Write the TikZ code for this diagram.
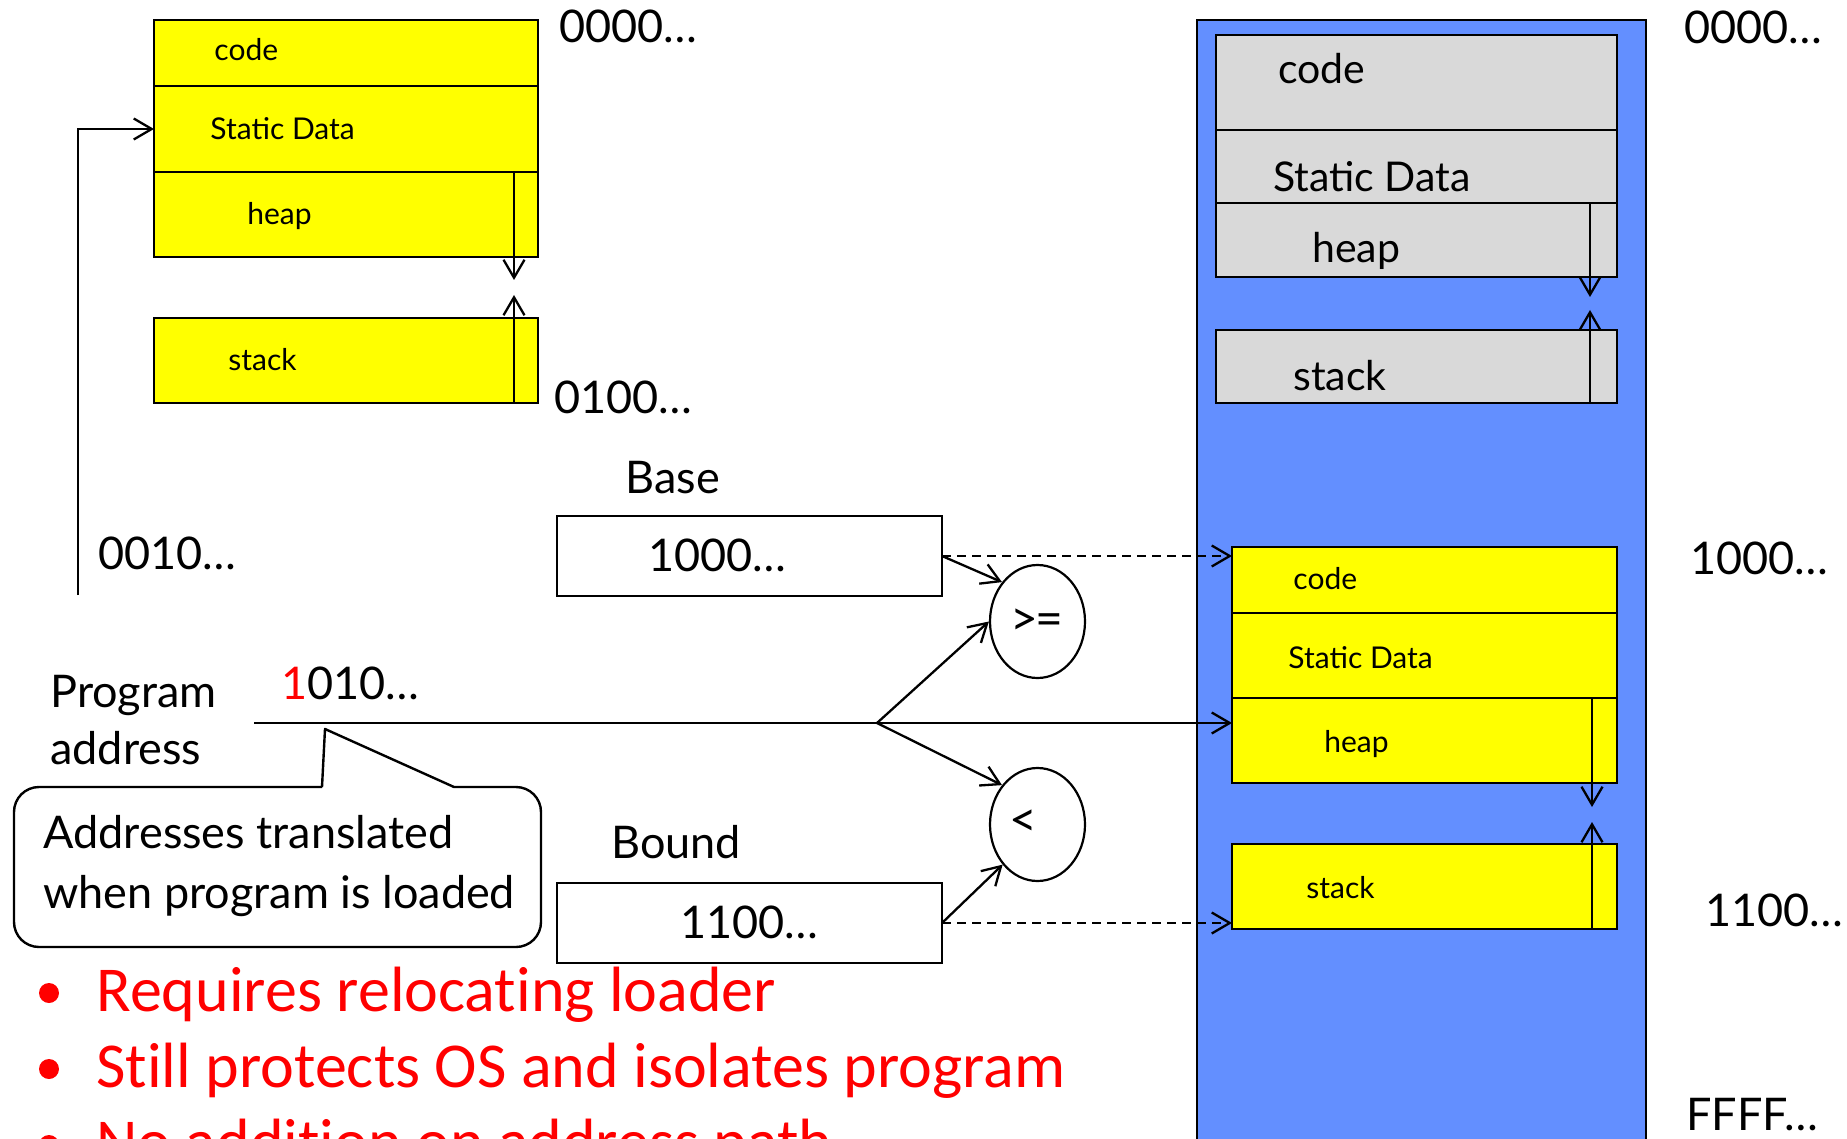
\documentclass[tikz,border=0pt]{standalone}
\usepackage{fontspec}
\setmainfont{Lato}
\newfontfamily\calibri[Ligatures=NoCommon]{Carlito}
\usetikzlibrary{arrows.meta,shapes.geometric,calc}
\definecolor{memblue}{RGB}{99,143,255}
\definecolor{segyellow}{RGB}{255,255,0}
\definecolor{seggray}{RGB}{217,217,217}
\definecolor{bulletred}{RGB}{255,0,0}

\begin{document}
\begin{tikzpicture}[x=0.5pt,y=-0.5pt,
  seg/.style={draw, line width=1.2pt, inner sep=0pt, outer sep=0pt, anchor=north west},
  yseg/.style={seg, fill=segyellow, minimum width=192pt},
  rseg/.style={seg, fill=segyellow, minimum width=192.5pt},
  gseg/.style={seg, fill=seggray, minimum width=200.5pt},
  regbox/.style={seg, fill=white, minimum width=192.5pt, minimum height=40pt},
  cmp/.style={ellipse, draw, line width=1.1pt, fill=white, inner sep=0pt,
    minimum width=47.5pt, minimum height=56.5pt},
  smalltxt/.style={inner sep=0pt, anchor=base west, font=\fontsize{15pt}{18pt}\selectfont},
  midtxt/.style={inner sep=0pt, anchor=base west, font=\fontsize{20.5pt}{25pt}\selectfont},
  bigtxt/.style={inner sep=0pt, anchor=base west, font=\fontsize{22.5pt}{27pt}\selectfont},
  redtxt/.style={inner sep=0pt, anchor=base west, text=bulletred,
    font=\calibri\fontsize{32pt}{38pt}\selectfont},
  conn/.style={line width=1.15pt, -{Straight Barb[length=9pt,width=10.5pt]}},
  dashconn/.style={conn, dash pattern=on 4.5pt off 3pt},
  growarrow/.style={line width=1.15pt, -{Straight Barb[length=9pt,width=10.5pt]}}
]
\useasboundingbox (0,0) rectangle (1847,1139);
\clip (0,0) rectangle (1847,1139);

% physical memory
\node[draw, line width=0.8pt, fill=memblue, inner sep=0pt, outer sep=0pt,
  anchor=north west, minimum width=224.5pt, minimum height=570pt] (mem) at (1197,20) {};

% program image (left)
\node[yseg, minimum height=33pt]   (lcode)   at (154,20)  {};
\node[yseg, minimum height=43pt]   (lstatic) at (154,86)  {};
\node[yseg, minimum height=42.5pt] (lheap)   at (154,172) {};
\node[yseg, minimum height=42.5pt] (lstack)  at (154,318) {};
\node[smalltxt] (lcodet)   at (214,61)  {code};
\node[smalltxt] (lstatict) at (210,140) {Static Data};
\node[smalltxt] (lheapt)   at (247,225) {heap};
\node[smalltxt] (lstackt)  at (228,371) {stack};
\draw[growarrow] ($(lheap.north east)+(-24,0)$) -- ($(lheap.south east)+(-24,23)$);
\draw[growarrow] ($(lstack.south east)+(-24,0)$) -- ($(lstack.north east)+(-24,-23)$);

% OS region in memory (grey)
\node[gseg, minimum height=47.5pt] (gcode)   at (1216,35)  {};
\node[gseg, minimum height=36.5pt] (gstatic) at (1216,130) {};
\node[gseg, minimum height=37pt]   (gheap)   at (1216,203) {};
\node[gseg, minimum height=36.5pt] (gstack)  at (1216,330) {};
\node[midtxt] (gcodet)   at (1278,84)  {code};
\node[midtxt] (gstatict) at (1273,192) {Static Data};
\node[midtxt] (gheapt)   at (1312,263) {heap};
\node[midtxt] (gstackt)  at (1293,390) {stack};
\draw[growarrow] ($(gheap.north east)+(-27,0)$) -- ($(gheap.south east)+(-27,20)$);
\draw[growarrow] ($(gstack.south east)+(-27,0)$) -- ($(gstack.north east)+(-27,-20)$);

% relocated program in memory
\node[rseg, minimum height=33pt]   (rcode)   at (1232,547) {};
\node[rseg, minimum height=42.5pt] (rstatic) at (1232,613) {};
\node[rseg, minimum height=42.5pt] (rheap)   at (1232,698) {};
\node[rseg, minimum height=42.5pt] (rstack)  at (1232,844) {};
\node[smalltxt] (rcodet)   at (1293,589) {code};
\node[smalltxt] (rstatict) at (1288,668) {Static Data};
\node[smalltxt] (rheapt)   at (1324,752) {heap};
\node[smalltxt] (rstackt)  at (1306,898) {stack};
\draw[growarrow] ($(rheap.north east)+(-25,0)$) -- ($(rheap.south east)+(-25,24)$);
\draw[growarrow] ($(rstack.south east)+(-25,0)$) -- ($(rstack.north east)+(-25,-22)$);

% addresses
\node[bigtxt] (a0l) at (559,43)   {0000…};
\node[bigtxt] (a1l) at (554,413)  {0100…};
\node[bigtxt] (a2l) at (98,569)   {0010…};
\node[bigtxt] (a0r) at (1684,44)  {0000…};
\node[bigtxt] (a1r) at (1690,574) {1000…};
\node[bigtxt] (a2r) at (1705,926) {1100…};
\node[bigtxt] (a3r) at (1686,1130) {FFFF…};

% base and bound registers
\node[bigtxt] (basel)  at (625,493) {Base};
\node[regbox] (basebox) at (557,516) {};
\node[bigtxt] (basev)  at (648,571) {1000…};
\node[bigtxt] (boundl) at (611,858) {Bound};
\node[regbox] (boundbox) at (557,883) {};
\node[bigtxt] (boundv) at (680,938) {1100…};

% comparators
\node[cmp] (ge) at (1037.5,621.5) {};
\node[cmp] (lt) at (1037.5,824.5) {};
\node[inner sep=0pt, font=\fontsize{24pt}{27pt}\selectfont] (get) at (1036.5,622) {>\kern-1.5pt=};
\node[inner sep=0pt, font=\fontsize{24pt}{27pt}\selectfont] (ltt) at (1023,823) {<};

% program address
\node[bigtxt] (pal1) at (50,707) {Program};
\node[bigtxt] (pal2) at (50,764) {address};
\node[bigtxt] (pav)  at (281,699) {\textcolor{bulletred}{1}010…};
\coordinate (pa) at (254,723);
\coordinate (branch) at (877,723);
\draw[conn] (pa) -- (pa -| rheap.west);
\draw[conn] (branch) -- (ge.west);
\draw[conn] (branch) -- (lt.132);
\draw[conn] (basebox.east) -- (ge.132);
\draw[conn] (boundbox.east) -- (lt.229);
\draw[dashconn] (basebox.east) -- (basebox.east -| rcode.west);
\draw[dashconn] (boundbox.east) -- (boundbox.east -| rstack.west);

% loader path into the program image
\coordinate (lfoot) at (78,595);
\draw[conn] (lfoot) -- (lfoot |- lstatic.west) -- (lstatic.west);

% callout
\coordinate (cl) at (322,787);
\coordinate (ctip) at (325,729);
\coordinate (cr) at (454,787);
\draw[line width=1.2pt, line join=round] (cl) -- (ctip) -- (cr)
  [rounded corners=12.5pt] -- (541,787) -- (541,947) -- (14,947) -- (14,787) -- (cl);
\node[bigtxt] (ct1) at (43,848) {Addresses translated};
\node[bigtxt] (ct2) at (43,908) {when program is loaded};

% bullet points
\fill[bulletred] (49,993) circle[radius=5pt];
\fill[bulletred] (49,1069) circle[radius=5pt];
\fill[bulletred] (49,1145) circle[radius=5pt];
\node[redtxt] (b1) at (96,1011) {Requires relocating loader};
\node[redtxt] (b2) at (96,1087) {Still protects OS and isolates program};
\node[redtxt] (b3) at (96,1163) {No addition on address path};
\end{tikzpicture}
\end{document}
